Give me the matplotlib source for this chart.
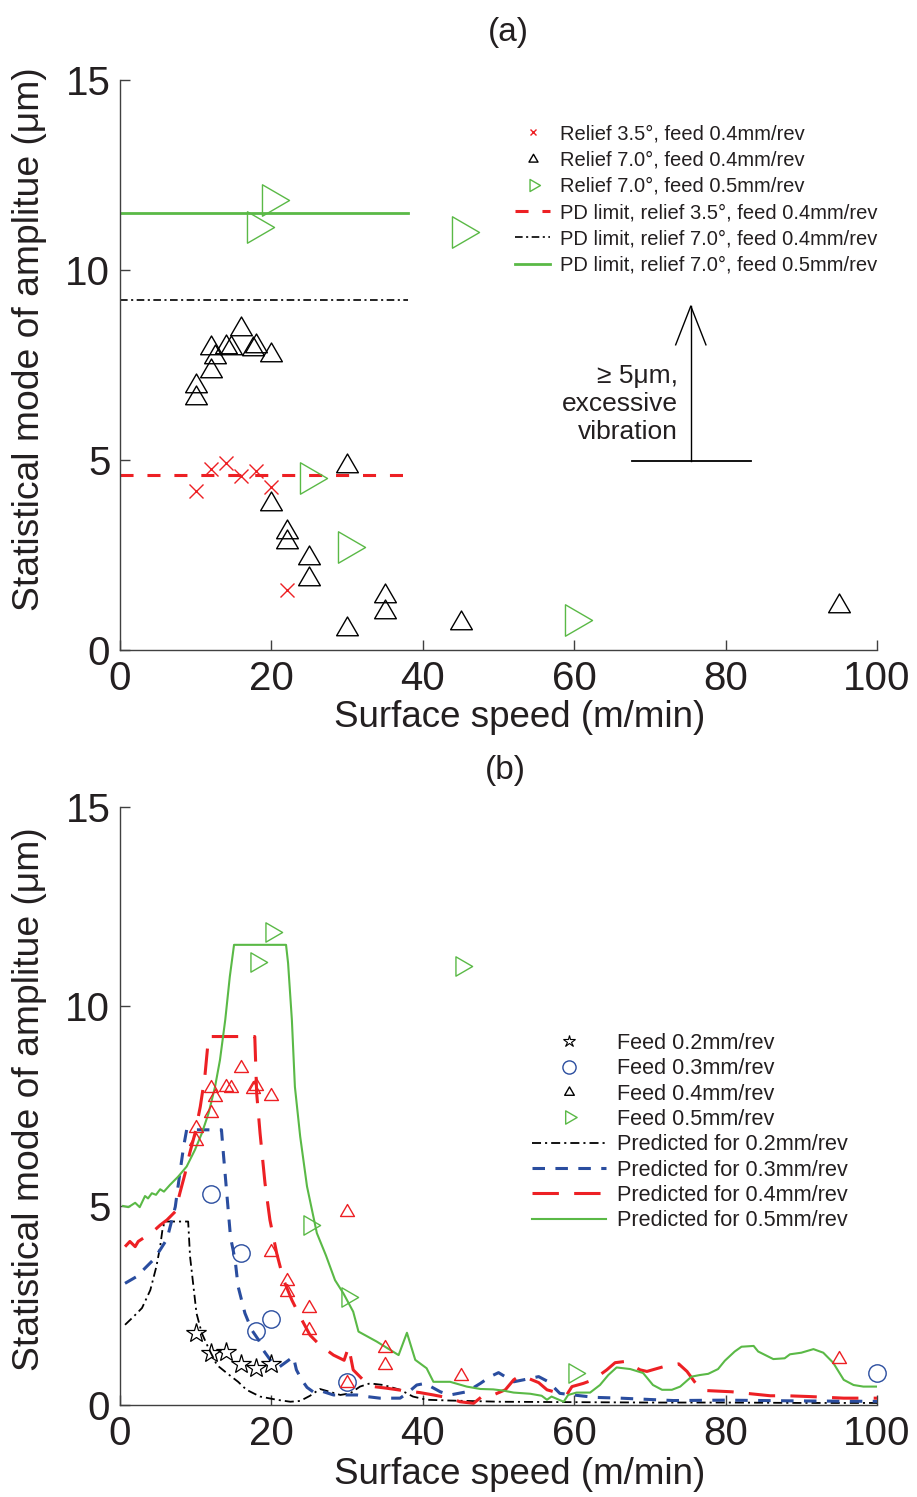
import matplotlib
matplotlib.use("Agg")
import matplotlib.pyplot as plt
from matplotlib.lines import Line2D
from matplotlib.path import Path

plt.rcParams['font.family'] = ['Liberation Sans', 'DejaVu Sans']
plt.rcParams['lines.scale_dashes'] = False

RED = '#ED2024'
GREEN = '#5AB946'
BLUE = '#2A4D9F'
BLACK = '#000000'
TXT = '#231F20'
SPINE = '#404040'

# ---------------- data: panel (a) ----------------
speed_r35_f04 = [10, 12, 14, 16, 18, 20, 22]
amp_r35_f04 = [4.19, 4.75, 4.91, 4.59, 4.70, 4.30, 1.58]

speed_f04 = [10, 10, 12, 12.5, 12, 14, 14.7, 16, 17.6, 18, 20, 30, 20, 22, 22, 25, 25, 35, 35, 30, 45, 95]
amp_f04 = [6.95, 6.63, 7.95, 7.72, 7.33, 7.98, 7.95, 8.45, 7.92, 8.0, 7.75, 4.84, 3.84, 3.10, 2.84,
           2.42, 1.88, 1.42, 1.01, 0.56, 0.72, 1.15]

speed_f05 = [20, 18, 45, 25, 30, 60]
amp_f05 = [11.85, 11.12, 11.0, 4.52, 2.70, 0.80]

pd_speed = [0, 38]
pd_r35_f04 = 4.6
pd_r70_f04 = 9.2
pd_r70_f05 = 11.5

# ---------------- data: panel (b) ----------------
speed_f02 = [10, 12, 14, 16, 18, 20]
amp_f02 = [1.81, 1.31, 1.34, 1.02, 0.92, 1.02]

speed_f03 = [12, 16, 18, 20, 30, 100]
amp_f03 = [5.28, 3.82, 1.86, 2.15, 0.58, 0.80]

pred02_x = [0.66, 1.76, 2.9, 4.0, 4.8, 5.3, 5.6, 5.9, 9.0, 9.25, 9.7, 10.1, 10.8, 11.7, 12.8, 14.1, 15.6,
            16.7, 18.5, 20.7, 22.5, 23.8, 25.1, 26.4, 27.7, 29.1, 30.4, 31.7, 33.0, 34.8, 37.0, 38.7,
            40.5, 43.6, 50.2, 60, 70, 80, 90, 100]
pred02_y = [2.01, 2.21, 2.43, 2.88, 3.47, 3.97, 4.39, 4.60, 4.60, 3.72, 2.97, 2.30, 1.80, 1.42, 1.00, 0.80,
            0.58, 0.38, 0.21, 0.13, 0.08, 0.10, 0.23, 0.40, 0.33, 0.25, 0.29, 0.46, 0.54, 0.50, 0.38,
            0.21, 0.13, 0.11, 0.08, 0.07, 0.06, 0.06, 0.05, 0.05]

pred03_x = [0.66, 2.2, 3.3, 4.4, 5.3, 6.2, 7.3, 7.9, 8.4, 8.8, 13.4, 13.65, 14.1, 14.6, 15.2, 15.6, 16.5,
            17.4, 18.3, 18.9, 20.0, 21.1, 22.9, 23.3, 24.0, 24.7, 25.5, 26.4, 28.2, 29.9, 31.3, 32.6,
            34.3, 37.0, 37.9, 39.2, 40.3, 42.3, 43.6, 45.8, 47.6, 48.9, 50.0, 52.0, 53.3, 55.3, 56.6,
            58.1, 60.8, 62.7, 66.1, 69.6, 73.1, 80, 90, 100]
pred03_y = [3.05, 3.22, 3.43, 3.64, 3.89, 4.16, 4.97, 5.81, 6.48, 6.90, 6.90, 6.31, 5.31, 4.20, 3.64, 2.97,
            2.30, 1.88, 1.63, 1.38, 1.09, 0.96, 1.21, 0.88, 0.63, 0.44, 0.33, 0.36, 0.25, 0.25, 0.25,
            0.21, 0.17, 0.17, 0.29, 0.50, 0.54, 0.33, 0.25, 0.33, 0.54, 0.71, 0.81, 0.58, 0.63, 0.71,
            0.58, 0.29, 0.23, 0.19, 0.17, 0.14, 0.11, 0.12, 0.10, 0.09]

pred04_x = [0.66, 1.3, 2.0, 2.4, 3.2, 4.0, 4.6, 5.3, 6.2, 7.3, 7.9, 8.6, 9.2, 9.9, 10.6, 11.2, 11.7, 17.8,
            18.05, 18.5, 19.15, 19.8, 20.7, 21.6, 22.7, 23.8, 25.1, 26.4, 28.2, 29.6, 30.2, 30.8, 32.1,
            33.5, 35.2, 37.4, 39.6, 41.4, 43.6, 44.9, 46.7, 47.8, 49.3, 50.9, 52.0, 52.8, 53.5, 55.3,
            56.4, 57.7, 59.0, 59.7, 61.2, 62.5, 64.3, 65.4, 66.7, 68.7, 69.6, 70.7, 71.8, 73.8, 74.9,
            75.9, 76.8, 77.5, 80.8, 82.8, 85.9, 88.1, 91.1, 93.4, 95.6, 100]
pred04_y = [3.97, 4.10, 3.97, 4.10, 4.20, 4.31, 4.39, 4.51, 4.64, 4.85, 5.31, 5.81, 6.31, 6.81, 7.48, 8.23,
            9.24, 9.24, 7.82, 6.81, 5.56, 4.64, 3.80, 3.14, 2.63, 2.21, 1.75, 1.50, 1.25, 1.12, 1.46,
            0.88, 0.63, 0.46, 0.42, 0.36, 0.31, 0.25, 0.17, 0.08, 0.04, 0.21, 0.25, 0.38, 0.63, 0.73,
            0.70, 0.56, 0.38, 0.31, 0.25, 0.46, 0.54, 0.63, 0.88, 1.06, 1.09, 0.88, 0.84, 0.90, 0.96,
            1.03, 0.84, 0.58, 0.38, 0.36, 0.33, 0.29, 0.23, 0.23, 0.21, 0.19, 0.17, 0.17]

pred05_x = [0.4, 1.1, 2.0, 2.6, 3.3, 3.7, 4.2, 4.75, 5.3, 5.8, 6.6, 7.7, 8.8, 9.9, 10.8, 11.7, 12.55, 13.2,
            13.9, 14.5, 15.06, 21.93, 22.2, 22.7, 23.1, 23.8, 24.7, 26.0, 27.2, 28.4, 29.5, 30.8, 31.5,
            33.9, 36.8, 37.9, 39.0, 40.5, 41.4, 43.6, 45.8, 47.6, 49.3, 50.6, 52.0, 54.2, 55.7, 56.4,
            57.0, 58.6, 59.2, 60.3, 62.1, 63.4, 64.5, 65.6, 67.4, 69.1, 70.4, 71.6, 72.9, 74.0, 75.5,
            76.6, 77.7, 79.0, 79.9, 81.2, 82.1, 83.7, 84.3, 86.3, 87.8, 88.5, 90.0, 91.6, 92.9, 94.2,
            95.6, 96.9, 98.2, 100]
pred05_y = [4.99, 4.96, 5.07, 4.96, 5.24, 5.18, 5.31, 5.27, 5.41, 5.35, 5.52, 5.73, 5.98, 6.40, 6.81, 7.32,
            7.98, 8.65, 9.66, 10.74, 11.54, 11.54, 11.08, 9.66, 7.98, 6.73, 5.48, 4.31, 3.75, 3.13, 2.80,
            2.34, 1.84, 1.59, 1.25, 1.81, 1.13, 0.92, 0.58, 0.58, 0.46, 0.40, 0.39, 0.36, 0.31, 0.28,
            0.23, 0.13, 0.21, 0.08, 0.25, 0.31, 0.31, 0.50, 0.75, 0.94, 0.90, 0.80, 0.50, 0.38, 0.38,
            0.46, 0.71, 0.75, 0.78, 0.90, 1.11, 1.34, 1.46, 1.48, 1.34, 1.15, 1.17, 1.27, 1.31, 1.40,
            1.31, 1.06, 0.63, 0.50, 0.46, 0.46]

xticks = [0, 20, 40, 60, 80, 100]
yticks = [0, 5, 10, 15]

# centroid-centred triangle markers (MATLAB style)
TRI_UP = Path([(0, 2/3), (-0.58, -1/3), (0.58, -1/3), (0, 2/3)], closed=True)
TRI_RIGHT = Path([(2/3, 0), (-1/3, 0.58), (-1/3, -0.58), (2/3, 0)], closed=True)

fig = plt.figure(figsize=(9.17, 14.97), dpi=100)
ax1 = fig.add_axes([0.1309, 0.5658, 0.8255, 0.3808])
ax2 = fig.add_axes([0.1309, 0.0615, 0.8255, 0.3995])


def style_axes(ax):
    ax.set_xlim(0, 100)
    ax.set_ylim(0, 15)
    ax.set_xticks(xticks)
    ax.set_yticks(yticks)
    for s in ['top', 'right']:
        ax.spines[s].set_visible(False)
    for s in ['left', 'bottom']:
        ax.spines[s].set_color(SPINE)
        ax.spines[s].set_linewidth(1.0)
    ax.tick_params(direction='in', length=7, width=1.0, color=SPINE, labelsize=29,
                   labelcolor=TXT)
    ax.tick_params(axis='y', pad=7)
    ax.tick_params(axis='x', pad=7)


# ---------------- panel (a) ----------------
ax = ax1
style_axes(ax)
ax.plot(pd_speed, [pd_r35_f04] * 2, color=RED, lw=2.2, dashes=(9.4, 10))
ax.plot(pd_speed, [pd_r70_f04] * 2, color=BLACK, lw=1.2, dashes=(5.5, 2.5, 1.5, 2.5))
ax.plot(pd_speed, [pd_r70_f05] * 2, color=GREEN, lw=2.0)
ax.plot(speed_r35_f04, amp_r35_f04, ls='none', marker='x', ms=9.5, mew=1.0, color=RED, clip_on=False)
ax.plot(speed_f04, amp_f04, ls='none', marker=TRI_UP, ms=18, mew=1.0, mfc='none', mec=BLACK,
        clip_on=False)
ax.plot(speed_f05, amp_f05, ls='none', marker=TRI_RIGHT, ms=26, mew=1.0, mfc='none', mec=GREEN,
        clip_on=False)

# annotation arrow
arr_x, arr_y0, arr_y1 = 75.4, 4.98, 9.05
ax.plot([67.6, 83.4], [arr_y0, arr_y0], color=BLACK, lw=1.3)
ax.plot([arr_x, arr_x], [arr_y0, arr_y1], color=BLACK, lw=1.0)
ax.plot([73.4, arr_x, 77.4], [8.03, arr_y1, 8.03], color=BLACK, lw=1.0)
ax.text(73.7, 6.47, '\u2265 5\u03bcm,\nexcessive\nvibration', ha='right', va='center',
        multialignment='right', fontsize=19, color=TXT, linespacing=1.22)

leg_a = [
    Line2D([], [], ls='none', marker='x', ms=4, mew=1.0, color=RED),
    Line2D([], [], ls='none', marker=TRI_UP, ms=7.5, mew=1.0, mfc='none', mec=BLACK),
    Line2D([], [], ls='none', marker=TRI_RIGHT, ms=10, mew=1.0, mfc='none', mec=GREEN),
    Line2D([], [], color=RED, lw=2.2, dashes=(9.4, 10)),
    Line2D([], [], color=BLACK, lw=1.2, dashes=(5.5, 2.5, 1.5, 2.5)),
    Line2D([], [], color=GREEN, lw=2.0),
]
lab_a = ['Relief 3.5\u00b0, feed 0.4mm/rev', 'Relief 7.0\u00b0, feed 0.4mm/rev',
         'Relief 7.0\u00b0, feed 0.5mm/rev', 'PD limit, relief 3.5\u00b0, feed 0.4mm/rev',
         'PD limit, relief 7.0\u00b0, feed 0.4mm/rev', 'PD limit, relief 7.0\u00b0, feed 0.5mm/rev']
lg = ax.legend(leg_a, lab_a, loc='upper left', bbox_to_anchor=(0.522, 0.922), frameon=False,
               fontsize=14.5, handlelength=1.75, handletextpad=0.5, labelspacing=0.36,
               borderpad=0, borderaxespad=0)
for t in lg.get_texts():
    t.set_color(TXT)

# ---------------- panel (b) ----------------
ax = ax2
style_axes(ax)
ax.plot(pred02_x, pred02_y, color=BLACK, lw=1.3, dashes=(6.5, 2.9, 1.5, 2.9))
ax.plot(pred03_x, pred03_y, color=BLUE, lw=2.2, dashes=(9, 7.5))
ax.plot(pred04_x, pred04_y, color=RED, lw=2.2, dashes=(19, 11))
ax.plot(pred05_x, pred05_y, color=GREEN, lw=1.5)
ax.plot(speed_f02, amp_f02, ls='none', marker='*', ms=14.5, mew=0.9, mfc='none', mec=BLACK, clip_on=False)
ax.plot(speed_f03, amp_f03, ls='none', marker='o', ms=12.5, mew=1.0, mfc='none', mec=BLUE, clip_on=False)
ax.plot(speed_f04, amp_f04, ls='none', marker=TRI_UP, ms=11.5, mew=1.0, mfc='none', mec=RED, clip_on=False)
ax.plot(speed_f05, amp_f05, ls='none', marker=TRI_RIGHT, ms=16, mew=1.0, mfc='none', mec=GREEN,
        clip_on=False)

leg_b = [
    Line2D([], [], ls='none', marker='*', ms=9, mew=0.8, mfc='none', mec=BLACK),
    Line2D([], [], ls='none', marker='o', ms=9.5, mew=1.0, mfc='none', mec=BLUE),
    Line2D([], [], ls='none', marker=TRI_UP, ms=8, mew=1.0, mfc='none', mec=BLACK),
    Line2D([], [], ls='none', marker=TRI_RIGHT, ms=11, mew=1.0, mfc='none', mec=GREEN),
    Line2D([], [], color=BLACK, lw=1.3, dashes=(6.5, 2.9, 1.5, 2.9)),
    Line2D([], [], color=BLUE, lw=2.2, dashes=(9, 7.5)),
    Line2D([], [], color=RED, lw=2.2, dashes=(19, 11)),
    Line2D([], [], color=GREEN, lw=1.5),
]
lab_b = ['Feed 0.2mm/rev', 'Feed 0.3mm/rev', 'Feed 0.4mm/rev', 'Feed 0.5mm/rev',
         'Predicted for 0.2mm/rev', 'Predicted for 0.3mm/rev', 'Predicted for 0.4mm/rev',
         'Predicted for 0.5mm/rev']
lg = ax.legend(leg_b, lab_b, loc='upper left', bbox_to_anchor=(0.544, 0.622), frameon=False,
               fontsize=15.6, handlelength=3.4, handletextpad=0.55, labelspacing=0.2,
               borderpad=0, borderaxespad=0)
for t in lg.get_texts():
    t.set_color(TXT)

# ---------------- titles and labels ----------------
fig.text(508 / 917, 1 - 33 / 1497, '(a)', ha='center', va='center', fontsize=24, color=TXT)
fig.text(505 / 917, 1 - 770 / 1497, '(b)', ha='center', va='center', fontsize=24, color=TXT)
for yc in [718, 1475]:
    fig.text(520 / 917, 1 - yc / 1497, 'Surface speed (m/min)', ha='center', va='center',
             fontsize=26.5, color=TXT)
for yc in [339, 1099]:
    fig.text(30 / 917, 1 - yc / 1497, 'Statistical mode of amplitue (\u03bcm)', ha='center',
             va='center', rotation=90, fontsize=26.8, color=TXT)

fig.savefig('out.png', dpi=100)
